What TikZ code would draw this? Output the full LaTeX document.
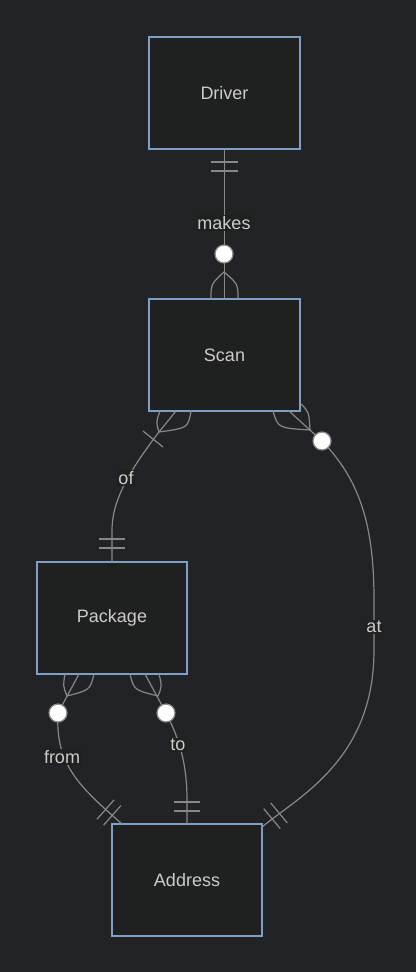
\documentclass[tikz,border=0pt]{standalone}
\usepackage{fontspec}
\setmainfont{Liberation Sans}
\usepackage{tikz}
\usetikzlibrary{positioning}

\definecolor{bgcol}{HTML}{212327}
\definecolor{boxfill}{HTML}{1F2020}
\definecolor{boxline}{HTML}{7FA0C4}
\definecolor{relline}{HTML}{888888}
\definecolor{txtcol}{HTML}{CCCCCC}

\begin{document}
\begin{tikzpicture}[x=1pt,y=-1pt,
  entity/.style={draw=boxline,fill=boxfill,line width=1.6pt,minimum width=151pt,minimum height=112pt,inner sep=0pt,outer sep=0pt,text=txtcol,font=\fontsize{18}{22}\selectfont},
  rel/.style={draw=relline,line width=1.2pt},
  rlabel/.style={fill=boxfill,fill opacity=0.9,text opacity=1,text=txtcol,inner sep=1.5pt,font=\fontsize{18}{22}\selectfont},
  zero/.style={circle,draw=relline,fill=white,line width=1.2pt,minimum size=18pt,inner sep=0pt}]

  \fill[bgcol] (0,0) rectangle (416,972);
  \useasboundingbox (0,0) rectangle (416,972);

  % Define nodes
  \node[entity] (driver) at (224.5,93) {Driver};
  \node[entity, below=150pt of driver] (scan) {Scan};
  \node[entity, minimum width=150pt] (package) at (112,618) {Package};
  \node[entity, minimum width=150pt] (address) at (187,880) {Address};

  % Driver -- Scan
  \draw[rel] (driver.south) -- (scan.north);
  \draw[rel] (211,162) -- (238,162) (211,171) -- (238,171);
  \draw[rel] (211,299) .. controls (211,284) .. (224,272) .. controls (238,284) .. (238,299);
  \node[zero] (zmakes) at (224,254) {};
  \node[rlabel] (lmakes) at (224,223) {makes};

  % Scan -- Package
  \draw[rel] ([xshift=-48.5pt]scan.south) -- (159,432) .. controls (130,470) and (112,500) .. (112,530) -- (package.north);
  \draw[rel] (143,431) -- (163,447);
  \draw[rel] (160,411) .. controls (156,422) .. (159,432) .. controls (188,428) .. (191,411);
  \draw[rel] (99,539) -- (125,539) (99,548) -- (125,548);
  \node[rlabel] (lof) at (126,478) {of};

  % Scan -- Address
  \draw[rel] ([xshift=64.5pt]scan.south) -- (322,441) .. controls (362,482) and (374,530) .. (374,600) -- (374,650) .. controls (374,760) and (298,797) .. ([yshift=-3pt]address.north east);
  \draw[rel] (273,411) .. controls (278,428) .. (310,430) .. controls (309,412) .. (301,404);
  \draw[rel] (263.7,808.7) -- (280.3,828.7) (270.7,802.9) -- (287.3,822.9);
  \node[zero] (zat) at (322,441) {};
  \node[rlabel] (lat) at (374,627) {at};

  % Package -- Address
  \draw[rel] ([xshift=-33pt]package.south) -- (58,713) .. controls (55,765) and (80,787) .. ([xshift=-65pt]address.north);
  \draw[rel] (65,674) .. controls (63,686) .. (67,696) .. controls (90,690) .. (94,674);
  \draw[rel] (103.6,825.1) -- (120.9,805.6) (96.9,819.3) -- (114.1,799.8);
  \node[zero] (zfrom) at (58,713) {};
  \node[rlabel] (lfrom) at (62,757) {from};

  \draw[rel] ([xshift=33pt]package.south) -- (166,713) .. controls (180,740) and (187,765) .. (187,800) -- (address.north);
  \draw[rel] (130,674) .. controls (134,690) .. (158,696) .. controls (162,686) .. (159,674);
  \draw[rel] (174,802) -- (200,802) (174,811) -- (200,811);
  \node[zero] (zto) at (166,713) {};
  \node[rlabel] (lto) at (178,745) {to};

\end{tikzpicture}
\end{document}
